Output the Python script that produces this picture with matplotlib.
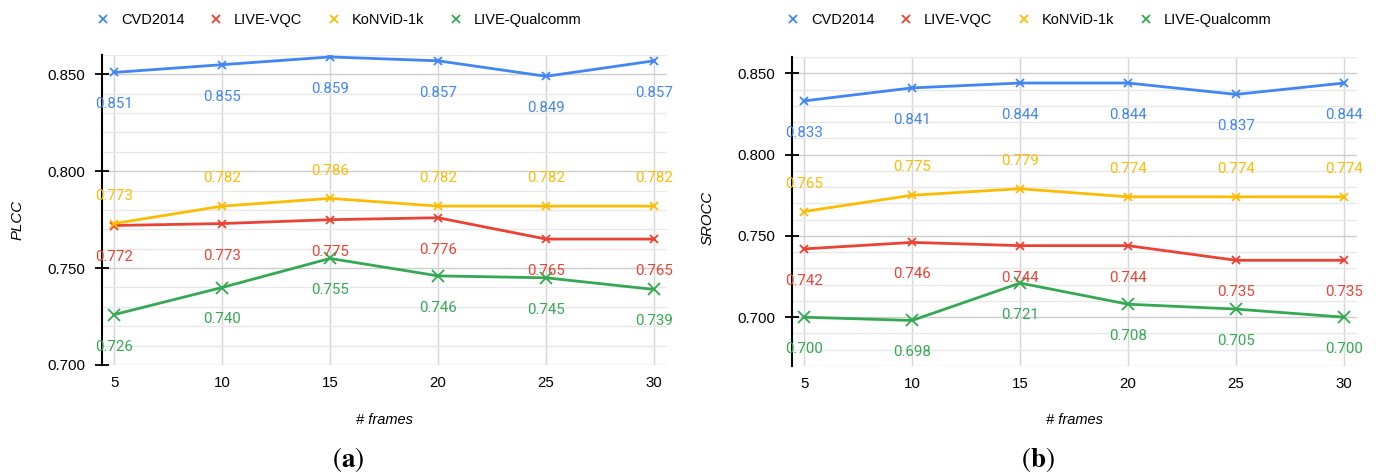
import matplotlib
matplotlib.use("Agg")
import matplotlib.pyplot as plt
from matplotlib.lines import Line2D
from matplotlib.ticker import MultipleLocator, FormatStrFormatter

plt.rcParams["mathtext.fontset"] = "stix"

frames = [5, 10, 15, 20, 25, 30]
series_names = ["CVD2014", "LIVE-VQC", "KoNViD-1k", "LIVE-Qualcomm"]
colors = ["#4285F4", "#EA4335", "#FBBC04", "#34A853"]

# PLCC values (a)
plcc_cvd = [0.851, 0.855, 0.859, 0.857, 0.849, 0.857]
plcc_vqc = [0.772, 0.773, 0.775, 0.776, 0.765, 0.765]
plcc_konvid = [0.773, 0.782, 0.786, 0.782, 0.782, 0.782]
plcc_qualcomm = [0.726, 0.740, 0.755, 0.746, 0.745, 0.739]

# SROCC values (b)
srocc_cvd = [0.833, 0.841, 0.844, 0.844, 0.837, 0.844]
srocc_vqc = [0.742, 0.746, 0.744, 0.744, 0.735, 0.735]
srocc_konvid = [0.765, 0.775, 0.779, 0.774, 0.774, 0.774]
srocc_qualcomm = [0.700, 0.698, 0.721, 0.708, 0.705, 0.700]

# label above (+) or below (-) the point, per series
label_side = [-1, -1, 1, -1]

W, H = 1376, 473
fig = plt.figure(figsize=(W / 100, H / 100), dpi=100)


def px(x0, y0, x1, y1):
    return [x0 / W, 1 - y1 / H, (x1 - x0) / W, (y1 - y0) / H]


def draw_panel(rect, data, ylim, ylabel, ylab_xy, xlab_xy, tag, tag_xy):
    ax = fig.add_axes(rect)
    for vals, c, side, name in zip(data, colors, label_side, series_names):
        ms = 8.5 if name == "LIVE-Qualcomm" else 6
        ax.plot(frames, vals, color=c, lw=2.0, marker="x", ms=ms, mew=1.3,
                zorder=3)
        for f, v in zip(frames, vals):
            off = 20 if side > 0 else -23
            ax.annotate(f"{v:.3f}", (f, v), xytext=(0, off),
                        textcoords="offset points", ha="center", va="center",
                        color=c, fontsize=10.8, family="Roboto", zorder=4)
    ax.set_xlim(4.44, 30.6)
    ax.set_ylim(*ylim)
    ax.set_xticks(frames)
    ax.yaxis.set_major_locator(MultipleLocator(0.05))
    ax.yaxis.set_minor_locator(MultipleLocator(0.01))
    ax.yaxis.set_major_formatter(FormatStrFormatter("%.3f"))
    ax.grid(True, which="major", axis="y", color="#cccccc", lw=1.0)
    ax.grid(True, which="minor", axis="y", color="#e8e8e8", lw=1.0)
    ax.grid(True, which="major", axis="x", color="#d6d6d6", lw=1.0)
    ax.set_axisbelow(True)
    for s in ["top", "right", "bottom"]:
        ax.spines[s].set_visible(False)
    ax.spines["left"].set_linewidth(1.5)
    ax.tick_params(axis="y", which="major", direction="inout", length=9.4,
                   width=1.3, pad=7.5, labelsize=10.8,
                   labelfontfamily="Liberation Sans")
    ax.tick_params(axis="y", which="minor", length=0)
    ax.tick_params(axis="x", length=0, pad=8, labelsize=10.8,
                   labelfontfamily="Liberation Sans")
    handles = [Line2D([], [], color=c, marker="x", ls="none", ms=6, mew=1.3)
               for c in colors]
    leg_y = (1 - 20 / H - rect[1]) / rect[3]
    ax.legend(handles, series_names, ncol=4, frameon=False, loc="center left",
              bbox_to_anchor=(-0.008, leg_y),
              prop={"family": "Liberation Sans", "size": 10.5},
              handlelength=0.8, handletextpad=0.8, columnspacing=1.8,
              borderaxespad=0, borderpad=0)
    fig.text(ylab_xy[0] / W, 1 - ylab_xy[1] / H, ylabel, rotation=90,
             ha="center", va="center", style="italic", fontsize=10.8,
             family="Liberation Sans")
    fig.text(xlab_xy[0] / W, 1 - xlab_xy[1] / H, "# frames",
             ha="center", va="center", style="italic", fontsize=10.5,
             family="Liberation Sans")
    fig.text(tag_xy[0] / W, 1 - tag_xy[1] / H, tag, ha="center", va="center",
             fontsize=19.5, family="STIXGeneral")
    return ax


draw_panel(px(102, 55, 667, 365),
           [plcc_cvd, plcc_vqc, plcc_konvid, plcc_qualcomm],
           (0.70, 0.86), "PLCC", (18, 220), (385, 420), r"($\mathbf{a}$)", (348, 459))
draw_panel(px(792, 57, 1357, 366),
           [srocc_cvd, srocc_vqc, srocc_konvid, srocc_qualcomm],
           (0.67, 0.86), "SROCC", (708, 218), (1075, 420), r"($\mathbf{b}$)", (1038, 459))

fig.savefig("out.png", dpi=100)
